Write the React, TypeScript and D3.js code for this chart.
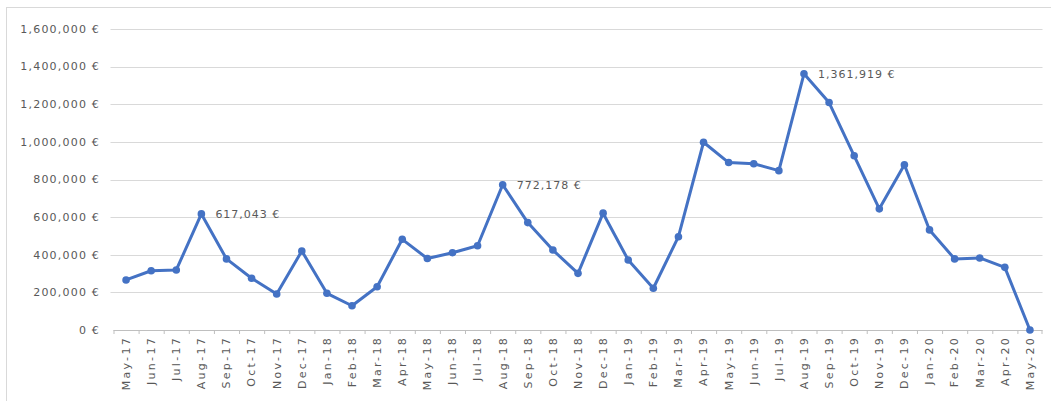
import React from "react";
import * as d3 from "d3";

// Monthly revenue, May 2017 – May 2020
const months: string[] = [
  "May-17", "Jun-17", "Jul-17", "Aug-17", "Sep-17", "Oct-17", "Nov-17", "Dec-17",
  "Jan-18", "Feb-18", "Mar-18", "Apr-18", "May-18", "Jun-18", "Jul-18", "Aug-18",
  "Sep-18", "Oct-18", "Nov-18", "Dec-18", "Jan-19", "Feb-19", "Mar-19", "Apr-19",
  "May-19", "Jun-19", "Jul-19", "Aug-19", "Sep-19", "Oct-19", "Nov-19", "Dec-19",
  "Jan-20", "Feb-20", "Mar-20", "Apr-20", "May-20",
];

const revenue: number[] = [
  266000, 315000, 319000, 617043, 378000, 275000, 191000, 420000,
  195000, 129000, 230000, 482000, 380000, 411000, 448000, 772178,
  571000, 425000, 301000, 621000, 372000, 222000, 496000, 998000,
  890000, 884000, 847000, 1361919, 1209000, 926000, 644000, 878000,
  532000, 378000, 383000, 333000, 0,
];

// Peaks that carry a value label
const labelledMonths: string[] = ["Aug-17", "Aug-18", "Aug-19"];

const yTicks: number[] = [0, 200000, 400000, 600000, 800000, 1000000, 1200000, 1400000, 1600000];

const W = 1051;
const H = 401;
const FONT = "'DejaVu Sans', sans-serif";
const TEXT = "#595959";
const GRID = "#d9d9d9";
const BLUE = "#4472C4";

const fmt = (v: number) => d3.format(",")(v) + " €";

export default function App() {
  const x = d3.scaleBand<string>().domain(months).range([113.5, 1042.5]).padding(0);
  const cx = (m: string) => (x(m) as number) + x.bandwidth() / 2;
  const y = d3.scaleLinear().domain([0, 1600000]).range([330, 29]);

  const pts = months.map((m, i) => ({ m, v: revenue[i] }));
  const line = d3
    .line<{ m: string; v: number }>()
    .x((d) => cx(d.m))
    .y((d) => y(d.v));

  const [x0, x1] = x.range();

  return (
    <svg
      width={W}
      height={H}
      style={{ position: "absolute", left: 0, top: 0, background: "#fff" }}
      fontFamily={FONT}
    >
      <rect x={6.5} y={7.5} width={W} height={H} fill="#fff" stroke={GRID} />

      {/* horizontal gridlines and value axis */}
      {yTicks.map((t) => (
        <g key={t}>
          {t > 0 && (
            <line x1={x0 - 3} x2={x1} y1={Math.round(y(t)) + 0.5} y2={Math.round(y(t)) + 0.5} stroke={GRID} />
          )}
          <text
            x={100}
            y={y(t)}
            dy="0.35em"
            textAnchor="end"
            fontSize={11}
            letterSpacing={1.2}
            fill={TEXT}
          >
            {fmt(t)}
          </text>
        </g>
      ))}

      {/* category axis */}
      <line x1={x0} x2={x1} y1={Math.round(y(0)) + 0.5} y2={Math.round(y(0)) + 0.5} stroke="#bfbfbf" />
      {months.map((m) => (
        <line
          key={"tk" + m}
          x1={(x(m) as number) + 0.5}
          x2={(x(m) as number) + 0.5}
          y1={y(0)}
          y2={y(0) + 4}
          stroke="#bfbfbf"
        />
      ))}
      <line x1={x1 - 0.5} x2={x1 - 0.5} y1={y(0)} y2={y(0) + 4} stroke="#bfbfbf" />
      {months.map((m) => (
        <text
          key={"lb" + m}
          transform={`translate(${cx(m)},${y(0) + 6}) rotate(-90)`}
          dy="0.35em"
          textAnchor="end"
          fontSize={11}
          letterSpacing={2.3}
          fill={TEXT}
        >
          {m}
        </text>
      ))}

      {/* revenue series */}
      <path d={line(pts) || ""} fill="none" stroke={BLUE} strokeWidth={3} strokeLinejoin="round" />
      {pts.map((p) => (
        <circle key={"pt" + p.m} cx={cx(p.m)} cy={y(p.v)} r={3.8} fill={BLUE} />
      ))}

      {/* peak value labels */}
      {pts
        .filter((p) => labelledMonths.includes(p.m))
        .map((p) => (
          <text
            key={"val" + p.m}
            x={cx(p.m) + 14}
            y={y(p.v)}
            dy="0.35em"
            fontSize={11}
            letterSpacing={1}
            fill={TEXT}
          >
            {fmt(p.v)}
          </text>
        ))}
    </svg>
  );
}
